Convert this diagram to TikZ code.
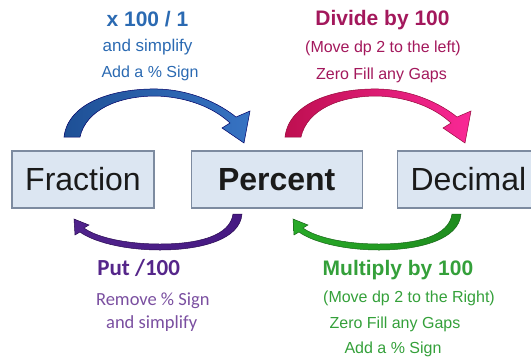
\documentclass[tikz,border=0pt]{standalone}
\usepackage{fontspec}
\setmainfont{Liberation Sans}
\newfontfamily\calfont{Carlito}
\usetikzlibrary{positioning}
\definecolor{boxfill}{HTML}{DCE6F2}
\definecolor{boxline}{HTML}{7D8BA0}
\definecolor{boxtext}{HTML}{1A1A1A}
\definecolor{bluetxt}{HTML}{2B6AB2}
\definecolor{pinktxt}{HTML}{A3185C}
\definecolor{purptxt}{HTML}{55268A}
\definecolor{purpsub}{HTML}{7A4FA0}
\definecolor{greentxt}{HTML}{34A03A}
\tikzstyle{convbox}=[draw=boxline, fill=boxfill, line width=1.2pt, minimum height=57,
                inner sep=0, text=boxtext, font=\fontsize{32}{36}\selectfont]
\tikzstyle{head}=[anchor=base, inner sep=0, font=\bfseries\fontsize{21}{24}\selectfont]
\tikzstyle{sub}=[anchor=base, inner sep=0, font=\fontsize{16}{18}\selectfont]
\tikzstyle{calsub}=[anchor=base, inner sep=0, font=\calfont\fontsize{18.5}{22}\selectfont]
\tikzstyle{bluearr}=[draw=blue!40!black, line width=0.5pt, left color={rgb,255:red,30;green,80;blue,150}, right color={rgb,255:red,55;green,115;blue,195}]
\tikzstyle{pinkarr}=[draw={rgb,255:red,150;green,10;blue,60}, line width=0.5pt, left color={rgb,255:red,190;green,15;blue,80}, right color={rgb,255:red,250;green,40;blue,150}]
\tikzstyle{purparr}=[draw={rgb,255:red,40;green,10;blue,80}, line width=0.5pt, left color={rgb,255:red,80;green,35;blue,140}, right color={rgb,255:red,70;green,25;blue,130}]
\tikzstyle{greenarr}=[draw={rgb,255:red,25;green,100;blue,25}, line width=0.5pt, left color={rgb,255:red,40;green,170;blue,40}, right color={rgb,255:red,30;green,140;blue,30}]

\begin{document}
\begin{tikzpicture}[x=1pt, y=-1pt]
\useasboundingbox (0,0) rectangle (531,360);
% the three boxes
\node[convbox, minimum width=142] (fraction) at (83,179.5) {Fraction};
\node[convbox, minimum width=171, right=36pt of fraction, font=\bfseries\fontsize{32}{36}\selectfont] (percent) {Percent};
\node[convbox, minimum width=142, right=34pt of percent] (decimal) {Decimal};
% fraction -> percent
\path[bluearr] (64,137) .. controls (68,102) and (115,88) .. (158,89)
  .. controls (192,90) and (220,104) .. (236,117) -- (250,111) -- (244,143) -- (222,128) -- (230,123)
  .. controls (214,108) and (188,97) .. (156,96) .. controls (118,96) and (86,110) .. (80,137) -- cycle;
\node[head, text=bluetxt] (fp1) at (147.5,26) {x 100 / 1};
\node[sub, text=bluetxt, font=\fontsize{17}{19}\selectfont] (fp2) at (147.5,51) {and simplify};
\node[sub, text=bluetxt] (fp3) at (150,77) {Add a \% Sign};
% percent -> decimal
\begin{scope}[xshift=221pt]
\path[pinkarr] (64,137) .. controls (68,102) and (115,88) .. (158,89)
  .. controls (192,90) and (220,104) .. (236,117) -- (250,111) -- (244,143) -- (222,128) -- (230,123)
  .. controls (214,108) and (188,97) .. (156,96) .. controls (118,96) and (86,110) .. (80,137) -- cycle;
\end{scope}
\node[head, text=pinktxt] (pd1) at (382.5,25) {Divide by 100};
\node[sub, text=pinktxt] (pd2) at (383,52) {(Move dp 2 to the left)};
\node[sub, text=pinktxt] (pd3) at (381.5,79) {Zero Fill any Gaps};
% percent -> fraction
\path[purparr] (242,214) .. controls (240,240) and (200,250) .. (160,250)
  .. controls (122,250) and (92,241) .. (80,232) -- (75,235) -- (74,219) -- (89,225) -- (84,228)
  .. controls (96,237) and (125,244) .. (160,244) .. controls (198,244) and (230,236) .. (233,214) -- cycle;
\node[head, text=purptxt, font=\calfont\bfseries\fontsize{23}{26}\selectfont] (pf1) at (138.7,275) {Put /100};
\node[calsub, text=purpsub] (pf2) at (152.8,305) {Remove \% Sign};
\node[calsub, text=purpsub] (pf3) at (151.7,328) {and simplify};
% decimal -> percent
\begin{scope}[xshift=219pt]
\path[greenarr] (242,214) .. controls (240,240) and (200,250) .. (160,250)
  .. controls (122,250) and (92,241) .. (80,232) -- (75,235) -- (74,219) -- (89,225) -- (84,228)
  .. controls (96,237) and (125,244) .. (160,244) .. controls (198,244) and (230,236) .. (233,214) -- cycle;
\end{scope}
\node[head, text=greentxt] (dp1) at (398,275) {Multiply by 100};
\node[sub, text=greentxt] (dp2) at (409,302) {(Move dp 2 to the Right)};
\node[sub, text=greentxt] (dp3) at (395,328) {Zero Fill any Gaps};
\node[sub, text=greentxt] (dp4) at (393,353) {Add a \% Sign};
\end{tikzpicture}
\end{document}
